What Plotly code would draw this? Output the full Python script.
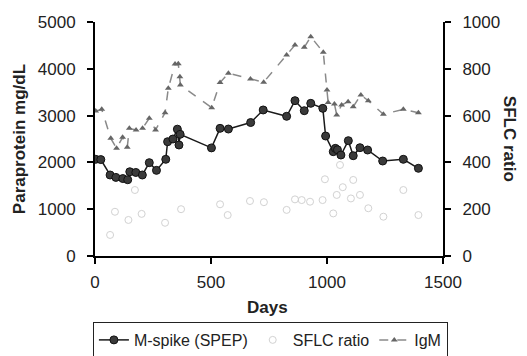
import plotly.graph_objects as go

# ---- data ----
mspike_days = [3, 25, 65, 90, 120, 141, 150, 176, 204, 234, 265, 305, 313, 336, 355, 362, 367,
               502, 539, 575, 671, 725, 826, 862, 902, 930, 982, 994, 1027, 1036, 1045, 1060,
               1092, 1113, 1142, 1175, 1240, 1329, 1394]
mspike_vals = [2066, 2060, 1731, 1680, 1655, 1630, 1800, 1785, 1731, 1994, 1830, 2066, 2442, 2500,
               2710, 2372, 2600, 2310, 2728, 2713, 2852, 3120, 2985, 3319, 3105, 3262, 3155, 2564,
               2229, 2300, 2270, 2158, 2464, 2143, 2314, 2265, 2030, 2066, 1874]

igm_days = [3, 29, 68, 93, 119, 139, 148, 177, 205, 234, 261, 302, 316, 345, 359, 366, 368,
            503, 539, 575, 670, 727, 826, 862, 902, 930, 984, 1000, 1005, 1032, 1042, 1063,
            1091, 1113, 1146, 1178, 1243, 1329, 1394]
igm_vals = [3100, 3134, 2514, 2301, 2536, 2322, 2728, 2692, 2728, 2942, 2692, 3062, 3583, 4103,
            4110, 3831, 3654, 3170, 3705, 3904, 3780, 3715, 4295, 4509, 4459, 4686, 4352, 3547,
            3280, 3248, 3013, 3226, 3297, 3190, 3440, 3318, 3028, 3134, 3062]

sflc_days = [65, 86, 144, 172, 201, 302, 371, 539, 572, 668, 728, 826, 862, 891, 927, 981, 991,
             1027, 1042, 1056, 1068, 1103, 1113, 1142, 1178, 1243, 1329, 1394]
sflc_vals = [90, 189, 154, 282, 180, 142, 200, 221, 175, 235, 230, 197, 242, 239, 232, 239, 328,
             182, 261, 389, 294, 246, 325, 261, 204, 168, 282, 175]

x_ticks = [0, 500, 1000, 1500]
left_ticks = [0, 1000, 2000, 3000, 4000, 5000]
right_ticks = [0, 200, 400, 600, 800, 1000]

FONT = "Liberation Sans, Arial, sans-serif"

fig = go.Figure()
fig.add_trace(go.Scatter(
    x=mspike_days, y=mspike_vals, name="M-spike (SPEP)", mode="lines+markers",
    line=dict(color="#1a1a1a", width=1.5),
    marker=dict(symbol="circle", size=8, color="#3a3a3a", line=dict(color="#111111", width=1)),
))
fig.add_trace(go.Scatter(
    x=sflc_days, y=sflc_vals, name="SFLC ratio", mode="markers", yaxis="y2",
    marker=dict(symbol="circle-open", size=7, color="#d2d2d2", line=dict(width=1)),
))
fig.add_trace(go.Scatter(
    x=igm_days, y=igm_vals, name="IgM", mode="lines+markers",
    line=dict(color="#8a8a8a", width=1.5, dash="dash"),
    marker=dict(symbol="triangle-up", size=6, color="#666666"),
))

axis_common = dict(showgrid=False, zeroline=False, showline=True, linecolor="black", linewidth=2,
                   ticks="outside", ticklen=6, tickwidth=2, tickcolor="black", automargin=False,
                   tickfont=dict(family=FONT, size=17, color="#222"))

title_font = dict(family=FONT, size=17, color="#222")

# the page body adds an 8px offset; the figure extends slightly past the window bottom
fig.update_layout(
    width=519, height=370,
    margin=dict(l=87, r=84, t=14, b=122),
    paper_bgcolor="white", plot_bgcolor="white",
    font=dict(family=FONT, size=17, color="#222"),
    xaxis=dict(range=[0, 1500], tickvals=x_ticks, ticklabelstandoff=4, **axis_common),
    yaxis=dict(range=[0, 5000], tickvals=left_ticks, ticklabelstandoff=8, **axis_common),
    yaxis2=dict(range=[0, 1000], tickvals=right_ticks, overlaying="y", side="right",
                ticklabelstandoff=8, **axis_common),
    showlegend=True,
    legend=dict(orientation="h", x=-0.006, y=-0.282, xanchor="left", yanchor="top",
                bordercolor="#222", borderwidth=1, bgcolor="white",
                font=dict(family=FONT, size=16), itemwidth=30, tracegroupgap=0),
    annotations=[
        dict(text="<b>SFLC ratio</b>", textangle=90, xref="paper", yref="paper",
             x=1.193, y=0.5, xanchor="center", yanchor="middle", showarrow=False, font=title_font),
        dict(text="<b>Paraprotein mg/dL</b>", textangle=-90, xref="paper", yref="paper",
             x=-0.218, y=0.5, xanchor="center", yanchor="middle", showarrow=False, font=title_font),
        dict(text="<b>Days</b>", xref="paper", yref="paper",
             x=0.495, y=-0.222, xanchor="center", yanchor="middle", showarrow=False, font=title_font),
    ],
)

fig.write_html("out.html")
